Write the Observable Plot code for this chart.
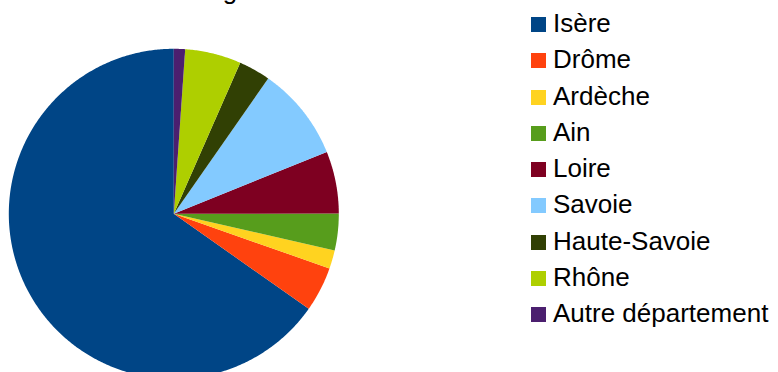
<!DOCTYPE html>
<html>
<head>
<meta charset="utf-8">
<script src="https://cdn.jsdelivr.net/npm/d3@7"></script>
<script src="https://cdn.jsdelivr.net/npm/@observablehq/plot@0.6"></script>
<style>
  html, body { margin: 0; padding: 0; background: #fff; overflow: hidden; }
  #wrap { position: relative; width: 778px; height: 372px; overflow: hidden; font-family: "Liberation Sans", Arial, sans-serif; }
  #title { position: absolute; left: 188px; top: -23px; font-size: 26px; line-height: 26px; color: #000; white-space: nowrap; }
  #legend { position: absolute; left: 531px; top: 5px; font-size: 26px; line-height: 36.25px; color: #000; }
  .row { white-space: nowrap; }
  .sw { display: inline-block; width: 15px; height: 15px; margin-right: 7px; }
  #chart { position: absolute; left: 0; top: 0; }
</style>
</head>
<body>
<div id="wrap">
  <div id="chart"></div>
  <div id="title">Origine</div>
  <div id="legend"></div>
</div>
<script>
// Data (percent share)
const departements = ["Isère", "Drôme", "Ardèche", "Ain", "Loire", "Savoie", "Haute-Savoie", "Rhône", "Autre département"];
const parts = [65.3, 4.4, 1.8, 3.6, 6.1, 9.2, 3.1, 5.5, 1.1];
const couleurs = ["#004586", "#ff420e", "#ffd320", "#579d1c", "#7e0021", "#83caff", "#314004", "#aecf00", "#4b1f6f"];

// Slice geometry from the values (counter-clockwise from 12 o'clock)
const arcs = d3.pie().sort(null).startAngle(0).endAngle(-2 * Math.PI)(parts);
const outline = [];
arcs.forEach((a, i) => {
  const name = departements[i];
  const a0 = a.startAngle, a1 = a.endAngle;
  const n = Math.max(2, Math.ceil(Math.abs(a1 - a0) / (Math.PI / 360)));
  outline.push({dep: name, x: 0, y: 0});
  for (let k = 0; k <= n; k++) {
    const t = a0 + (a1 - a0) * k / n;
    outline.push({dep: name, x: Math.sin(t), y: Math.cos(t)});
  }
  outline.push({dep: name, x: 0, y: 0});
});

const chart = Plot.plot({
  width: 778,
  height: 372,
  margin: 0,
  x: {domain: [-1, 1], range: [8.3, 338.3], axis: null},
  y: {domain: [-1, 1], range: [378.3, 48.3], axis: null},
  color: {domain: departements, range: couleurs},
  style: {background: "transparent"},
  marks: [
    Plot.line(outline, {x: "x", y: "y", z: "dep", fill: "dep", stroke: "none", curve: "linear"})
  ]
});
document.getElementById("chart").appendChild(chart);

const legend = document.getElementById("legend");
departements.forEach((d, i) => {
  const row = document.createElement("div");
  row.className = "row";
  const sw = document.createElement("span");
  sw.className = "sw";
  sw.style.background = couleurs[i];
  row.appendChild(sw);
  row.appendChild(document.createTextNode(d));
  legend.appendChild(row);
});
</script>
</body>
</html>
